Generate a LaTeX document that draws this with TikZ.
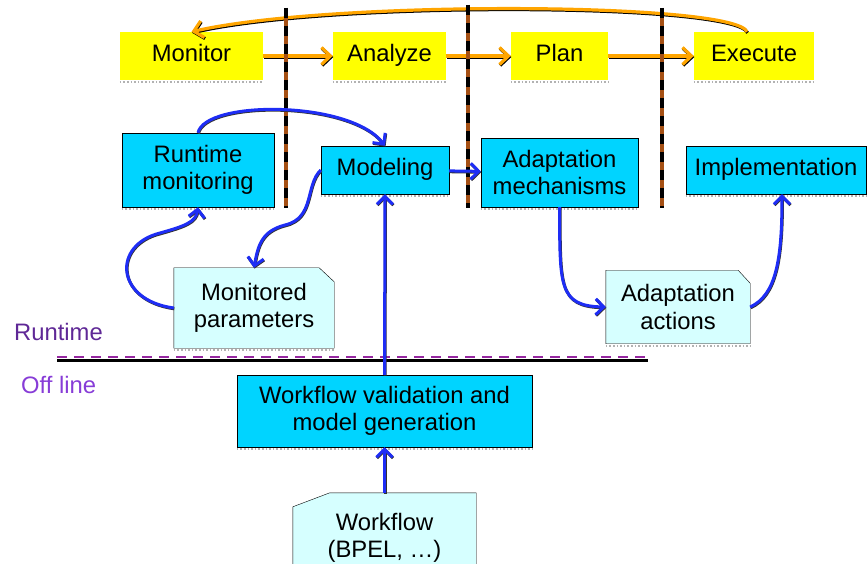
\documentclass[tikz,border=0pt]{standalone}
\usepackage{fontspec}
\setmainfont{Liberation Sans}
\usetikzlibrary{arrows.meta,backgrounds}
\definecolor{mapeyellow}{RGB}{255,255,0}
\definecolor{taskcyan}{RGB}{0,212,255}
\definecolor{notecyan}{RGB}{214,255,255}
\definecolor{looporange}{RGB}{255,165,0}
\definecolor{sepbrown}{RGB}{165,80,20}
\definecolor{flowblue}{RGB}{30,45,245}
\definecolor{rtpurple}{RGB}{95,40,150}
\definecolor{olpurple}{RGB}{135,60,215}
\definecolor{dashpurple}{RGB}{150,40,160}
\tikzset{
  txt/.style      ={font=\fontsize{23.8}{27.5}\selectfont,align=center,inner sep=0pt},
  oneline/.style  ={text height=17pt,text depth=5pt},
  phase/.style    ={txt,oneline,fill=mapeyellow,minimum height=48pt},
  task/.style     ={txt,draw,thin,fill=taskcyan},
  note/.style     ={txt},
  noteline/.style ={draw,thin,fill=notecyan},
  undl/.style     ={gray!60,dotted,line width=1.6pt},
  loop/.style     ={looporange,line width=3.2pt,-{Straight Barb[length=9pt,width=17pt]},
                    preaction={draw=black,line width=3.2pt,transform canvas={shift={(0.6pt,-1pt)}}}},
  flow/.style     ={flowblue,line width=3pt,-{Straight Barb[length=8pt,width=16pt]},
                    preaction={draw=black!80,line width=3pt,transform canvas={shift={(0.5pt,-0.8pt)}}}},
  phasesep/.style ={sepbrown,line width=3.4pt,postaction={draw=black,dash pattern=on 10pt off 8pt}},
  zone/.style     ={font=\fontsize{23.8}{27}\selectfont,anchor=base west,inner sep=0pt},
}
\begin{document}
\begin{tikzpicture}[x=1pt,y=-1pt]
  \useasboundingbox (0,0) rectangle (868,564);
  % MAPE loop
  \node[phase,minimum width=143pt] (mon) at (191.5,56) {Monitor};
  \node[phase,minimum width=113pt] (ana) at (389.5,56) {Analyze};
  \node[phase,minimum width=97pt]  (pla) at (559.5,56) {Plan};
  \node[phase,minimum width=120pt] (exe) at (754,56)   {Execute};
  % runtime tasks
  \node[task,minimum width=152pt,minimum height=74pt] (rtm) at (198,170) {Runtime\\monitoring};
  \node[task,oneline,minimum width=128pt,minimum height=48pt] (mod) at (385,170) {Modeling};
  \node[task,minimum width=157pt,minimum height=69pt] (adm) at (559.5,172.5) {Adaptation\\mechanisms};
  \node[task,oneline,minimum width=180pt,minimum height=48pt] (imp) at (776,170) {Implementation};
  \node[note,minimum width=160pt,minimum height=80pt] (mpar) at (254,308) {Monitored\\parameters};
  \node[note,minimum width=144pt,minimum height=73pt] (aact) at (678,307) {Adaptation\\actions};
  % off line part
  \node[task,minimum width=295pt,minimum height=72pt] (wval) at (384.5,411) {Workflow validation and\\model generation};
  \node[note,minimum width=183pt,minimum height=90pt] (wf) at (384.5,538) {Workflow\\(BPEL, …)};
  % note outlines with cut corner
  \begin{pgfonlayer}{background}
    \foreach \n/\cx/\cy in {mpar/15/14,aact/12/13}
      \draw[noteline] (\n.south west) -- (\n.north west) -- ([xshift=-\cx pt]\n.north east)
        -- ([yshift=-\cy pt]\n.north east) -- (\n.south east) -- cycle;
    \draw[noteline] (wf.south west) -- ([yshift=-14pt]wf.north west) -- ([xshift=37pt]wf.north west)
      -- (wf.north east) -- (wf.south east) -- cycle;
  \end{pgfonlayer}
  \foreach \n in {mon,ana,pla,exe,rtm,mod,adm,imp,mpar,aact,wval}
    \draw[undl] ([yshift=-2pt]\n.south west) -- ([yshift=-2pt]\n.south east);

  \draw[loop] (mon) -- (ana);
  \draw[loop] (ana) -- (pla);
  \draw[loop] (pla) -- (exe);
  \draw[loop] ([xshift=-7pt]exe.north) .. controls (735,2) and (330,0) .. (mon.north);
  % phase separators
  \foreach \x/\ya in {286/8,468/5,662/8}
    \draw[phasesep] (\x,\ya) -- (\x,208);

  % runtime / off line border
  \draw[black,line width=2.6pt] (57,360.5) -- (648,360.5);
  \draw[dashpurple,line width=2.6pt,dash pattern=on 10pt off 7pt] (57,357) -- (645,357);
  \node[zone,text=rtpurple] (rt) at (14,341) {Runtime};
  \node[zone,text=olpurple] (ol) at (21,393) {Off line};

  \draw[flow] (rtm.north) .. controls (205,100) and (350,100) .. (mod.north);
  \draw[flow] (mod) -- (adm);
  \draw[flow] (mod.west) .. controls (305,185) and (315,218) .. (285,225)
                         .. controls (262,231) and (258,245) .. (mpar.north);
  \draw[flow] (mpar.west) .. controls (115,300) and (112,245) .. (160,233)
                          .. controls (185,226) and (196,222) .. (rtm.south);
  \draw[flow] (adm.south) .. controls (560,285) and (558,306) .. (aact.west);
  \draw[flow] (aact.east) .. controls (776,295) and (782,260) .. ([xshift=6pt]imp.south);
  \draw[flow] (wval) -- (mod);
  \draw[flow] (wf) -- (wval);
\end{tikzpicture}
\end{document}
